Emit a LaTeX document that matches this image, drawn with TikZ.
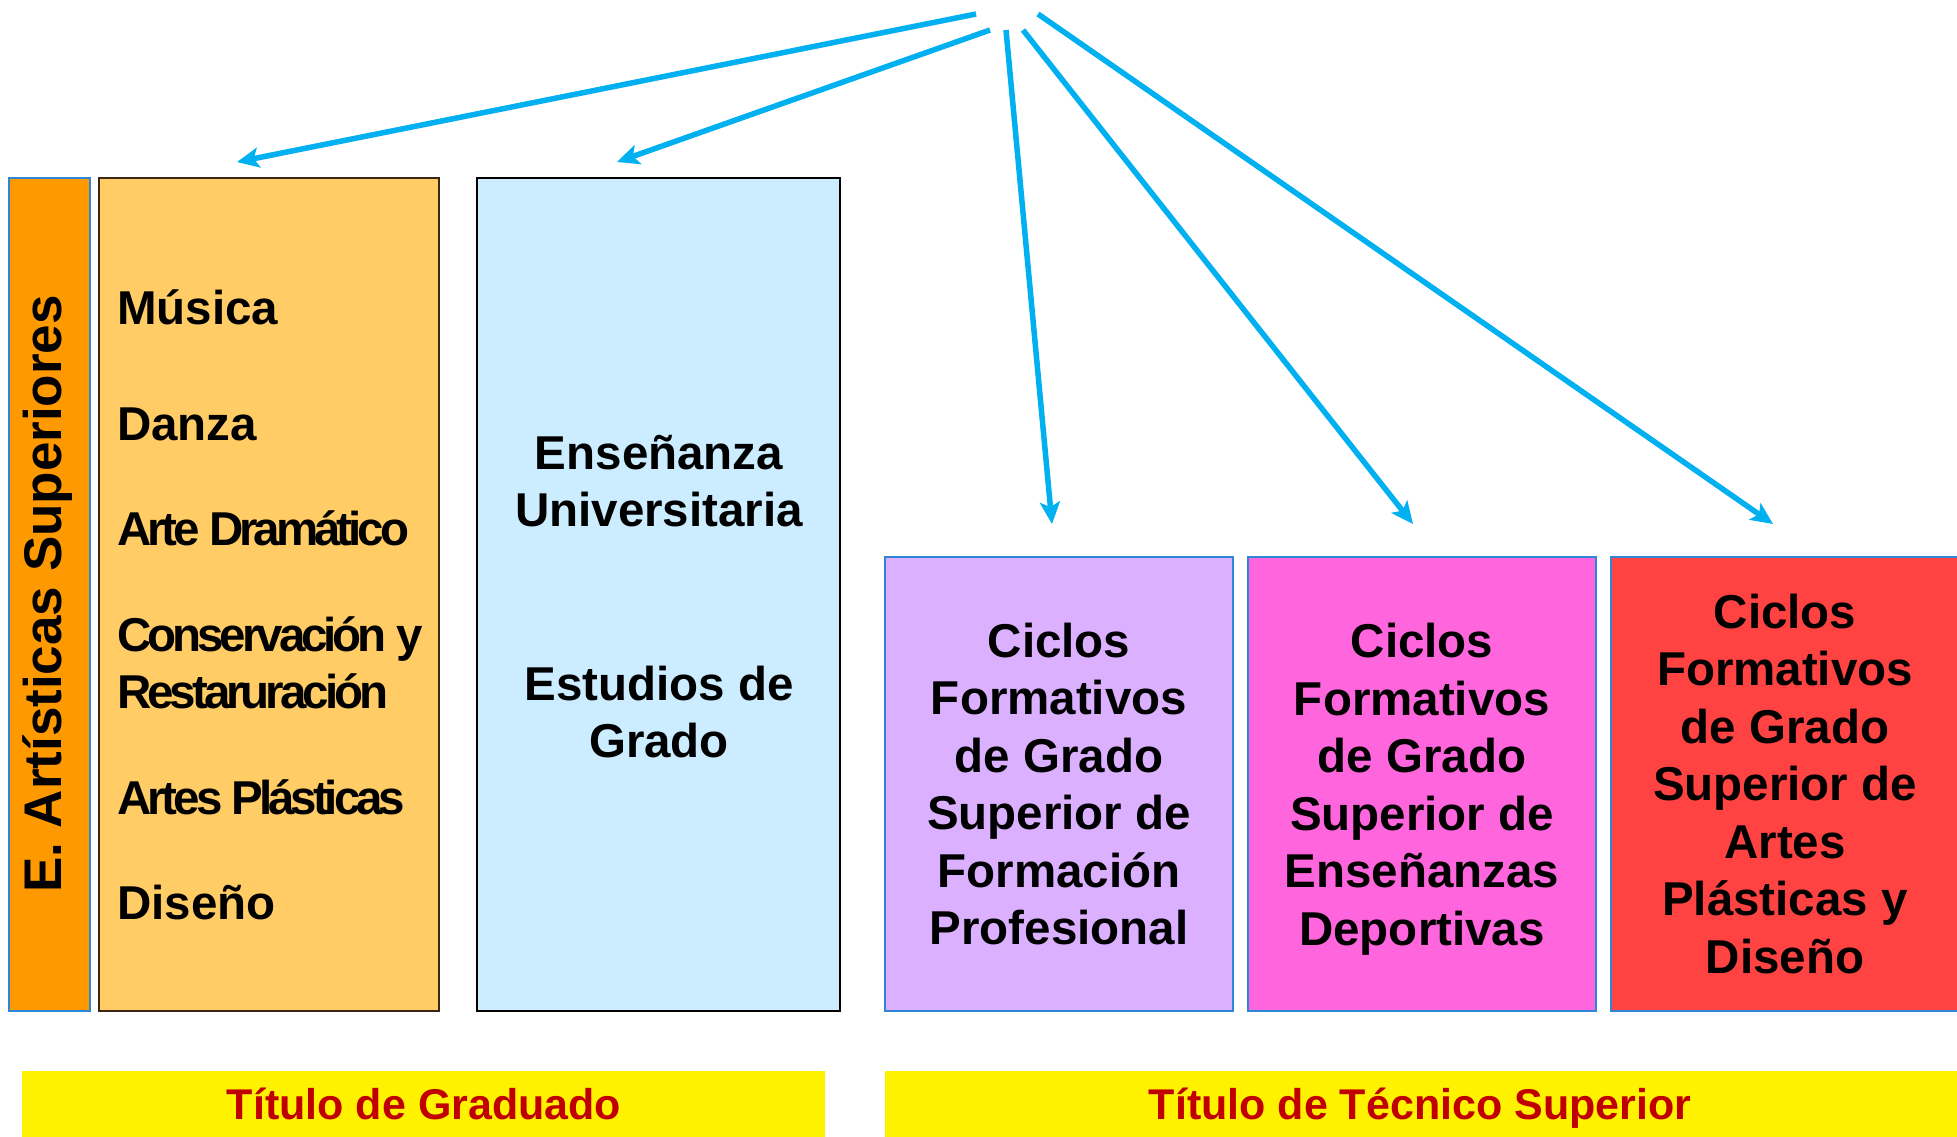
\documentclass[tikz,border=0pt]{standalone}
\usepackage{fontspec}
\setmainfont{Liberation Sans}
\newfontfamily\tightfont[LetterSpace=-8.5]{Liberation Sans}
\usetikzlibrary{arrows.meta}
\definecolor{arrowblue}{HTML}{00B0F0}
\definecolor{edgeblue}{HTML}{2E86D6}
\definecolor{esorange}{HTML}{FF9900}
\definecolor{lightorange}{HTML}{FFCC66}
\definecolor{lightblue}{HTML}{CCECFF}
\definecolor{lilac}{HTML}{DBB1FF}
\definecolor{pinkbox}{HTML}{FF66DD}
\definecolor{redbox}{HTML}{FF4343}
\definecolor{titlered}{HTML}{C00000}

\begin{document}
\begin{tikzpicture}[x=1pt,y=-1pt,
	box/.style={inner sep=0pt,line width=2pt,minimum width=#1},
	bar/.style={inner sep=0pt,fill=yellow,minimum height=70pt,minimum width=#1},
	txt/.style={inner sep=0pt,align=center,font=\fontsize{47.5}{57.5}\selectfont\bfseries},
	ttl/.style={inner sep=0pt,anchor=base,text=titlered,font=\fontsize{43}{50}\selectfont\bfseries},
	link/.style={draw=arrowblue,line width=5.5pt,-{Stealth[length=22pt,width=20pt,inset=5pt]}}]
	\useasboundingbox (0,0) rectangle (1957,1136);
	\node[box=81pt,minimum height=833pt,fill=esorange,draw=edgeblue,line width=1.5pt] (esup) at (49.5,594.5) {};
	\node[box=340pt,minimum height=833pt,fill=lightorange,draw=black!70!brown,line width=1.5pt] (artes) at (269,594.5) {};
	\node[box=363pt,minimum height=833pt,fill=lightblue,draw=black] (univ) at (658.5,594.5) {};
	\node[box=348pt,minimum height=454pt,fill=lilac,draw=edgeblue] (fp) at (1059,784) {};
	\node[box=348pt,minimum height=454pt,fill=pinkbox,draw=edgeblue] (dep) at (1422,784) {};
	\node[box=348pt,minimum height=454pt,fill=redbox,draw=edgeblue] (apd) at (1785,784) {};
	\node[bar=803pt] (grad) at (423.5,1106) {};
	\node[bar=1075pt] (tec) at (1422.5,1106) {};

	\node[txt,rotate=90,anchor=base,font=\fontsize{53}{60}\selectfont\bfseries] (esuplabel) at (61,594) {E. Artísticas Superiores};
	\node[txt,anchor=base west] (musica) at (117,324) {Música};
	\node[txt,anchor=base west] (danza) at (117,440) {Danza};
	\node[txt,anchor=base west] (drama) at (117,545) {\tightfont Arte Dramático};
	\node[txt,anchor=west,align=left] (conserv) at (117,663) {\tightfont Conservación y\\\tightfont Restaruración};
	\node[txt,anchor=base west] (plasticas) at (117,814) {\tightfont Artes Plásticas};
	\node[txt,anchor=base west] (diseno) at (117,919) {Diseño};
	\node[txt] (ensenanza) at (659,481) {Enseñanza\\Universitaria};
	\node[txt] (estudios) at (659,712) {Estudios de\\Grado};
	\node[txt] (fplabel) at (fp.center) {Ciclos\\Formativos\\de Grado\\Superior de\\Formación\\Profesional};
	\node[txt] (deplabel) at (1422,789) {Ciclos\\Formativos\\de Grado\\Superior de\\Enseñanzas\\Deportivas};
	\node[txt] (apdlabel) at (1785,784) {Ciclos\\Formativos\\de Grado\\Superior de\\Artes\\Plásticas y\\Diseño};
	\node[ttl] (gradlabel) at (424,1119) {Título de Graduado};
	\node[ttl] (teclabel) at (1420,1119) {Título de Técnico Superior};

	\coordinate (s1) at (976,14);
	\coordinate (s2) at (990,30);
	\coordinate (s3) at (1006,30);
	\coordinate (s4) at (1023,30);
	\coordinate (s5) at (1038,14);
	\coordinate (t1) at (237,162);
	\coordinate (t2) at (617,162);
	\coordinate (t3) at (1052,524);
	\coordinate (t4) at (1413,524);
	\coordinate (t5) at (1773,524);
	\foreach \i in {1,...,5}
		\draw[link] (s\i) -- (t\i);
\end{tikzpicture}
\end{document}
